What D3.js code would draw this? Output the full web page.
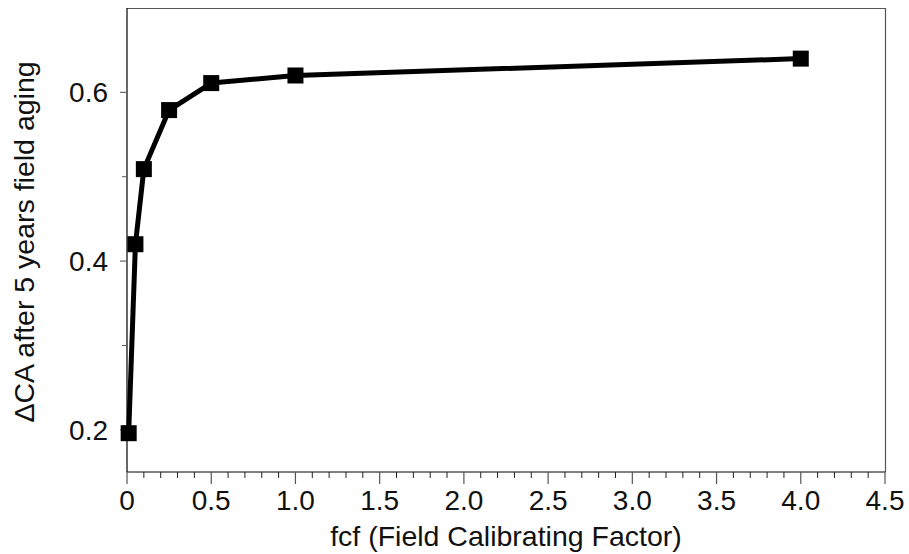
<!DOCTYPE html>
<html>
<head>
<meta charset="utf-8">
<script src="https://cdn.jsdelivr.net/npm/d3@7"></script>
<style>
  html, body { margin: 0; padding: 0; background: #fff; }
  svg { display: block; font-family: "Liberation Sans", Arial, Helvetica, sans-serif; }
</style>
</head>
<body>
<svg id="chart" width="909" height="554"></svg>
<script>
// Field calibrating factor vs. contact-angle change after 5 years of field aging
const fcf = [0.01, 0.05, 0.1, 0.25, 0.5, 1.0, 4.0];
const deltaCA = [0.196, 0.42, 0.509, 0.579, 0.611, 0.620, 0.640];

const xMajorTicks = [0, 0.5, 1.0, 1.5, 2.0, 2.5, 3.0, 3.5, 4.0, 4.5];
const xTickLabels = ["0", "0.5", "1.0", "1.5", "2.0", "2.5", "3.0", "3.5", "4.0", "4.5"];
const yMajorTicks = [0.2, 0.4, 0.6];
const yMinorTicks = [0.3, 0.5];

const xTitle = "fcf (Field Calibrating Factor)";
const yTitle = "ΔCA after 5 years field aging";

const svg = d3.select("#chart");
const plotL = 127, plotR = 885, plotT = 8, plotB = 472;

const x = d3.scaleLinear().domain([0, 4.5]).range([plotL, plotR]);
const y = d3.scaleLinear().domain([0.15, 0.7]).range([plotB, plotT]);

// frame: top and right edges
svg.append("path")
  .attr("d", `M${plotL},${plotT + 0.5}H${plotR + 0.5}V${plotB}`)
  .attr("fill", "none").attr("stroke", "#555").attr("stroke-width", 1.2);

// x axis
const xMinor = d3.range(0, 46).map(i => i / 10).filter(v => Math.round(v * 10) % 5 !== 0);
const gx = svg.append("g").attr("transform", `translate(0,${plotB})`);
gx.append("line").attr("x1", plotL).attr("x2", plotR + 0.5)
  .attr("stroke", "#000").attr("stroke-width", 1.2);
gx.selectAll("line.minor").data(xMinor).join("line").attr("class", "minor")
  .attr("x1", d => x(d)).attr("x2", d => x(d)).attr("y1", 0).attr("y2", 6)
  .attr("stroke", "#222").attr("stroke-width", 1);
gx.selectAll("line.major").data(xMajorTicks).join("line").attr("class", "major")
  .attr("x1", d => x(d)).attr("x2", d => x(d)).attr("y1", 0).attr("y2", 12)
  .attr("stroke", "#555").attr("stroke-width", 1.2);
gx.selectAll("text").data(xMajorTicks).join("text")
  .attr("x", d => x(d)).attr("y", 38)
  .attr("text-anchor", "middle").attr("font-size", 28).attr("fill", "#111")
  .text((d, i) => xTickLabels[i]);

// y axis
const gy = svg.append("g").attr("transform", `translate(${plotL},0)`);
gy.append("line").attr("y1", plotT).attr("y2", plotB)
  .attr("stroke", "#000").attr("stroke-width", 1.2);
gy.selectAll("line.minor").data(yMinorTicks).join("line").attr("class", "minor")
  .attr("x1", -5).attr("x2", 0).attr("y1", d => y(d)).attr("y2", d => y(d))
  .attr("stroke", "#555").attr("stroke-width", 1);
gy.selectAll("line.major").data(yMajorTicks).join("line").attr("class", "major")
  .attr("x1", -7).attr("x2", 0).attr("y1", d => y(d)).attr("y2", d => y(d))
  .attr("stroke", "#666").attr("stroke-width", 1.2);
gy.selectAll("text").data(yMajorTicks).join("text")
  .attr("x", -19).attr("y", d => y(d)).attr("dy", "0.36em")
  .attr("text-anchor", "end").attr("font-size", 28).attr("fill", "#111")
  .text(d => d3.format(".1f")(d));

// axis titles
svg.append("text").attr("x", (plotL + plotR) / 2).attr("y", 546)
  .attr("text-anchor", "middle").attr("font-size", 28.5).attr("fill", "#111")
  .text(xTitle);
svg.append("text").attr("transform", "translate(34,242) rotate(-90)")
  .attr("text-anchor", "middle").attr("font-size", 28.5).attr("fill", "#111")
  .text(yTitle);

// series line and square markers
const pts = fcf.map((v, i) => [v, deltaCA[i]]);
svg.append("path").datum(pts)
  .attr("d", d3.line().x(d => x(d[0])).y(d => y(d[1])))
  .attr("fill", "none").attr("stroke", "#000").attr("stroke-width", 5)
  .attr("stroke-linejoin", "round");
const s = 16;
svg.selectAll("rect.pt").data(pts).join("rect").attr("class", "pt")
  .attr("x", d => x(d[0]) - s / 2).attr("y", d => y(d[1]) - s / 2)
  .attr("width", s).attr("height", s).attr("fill", "#000");
</script>
</body>
</html>
